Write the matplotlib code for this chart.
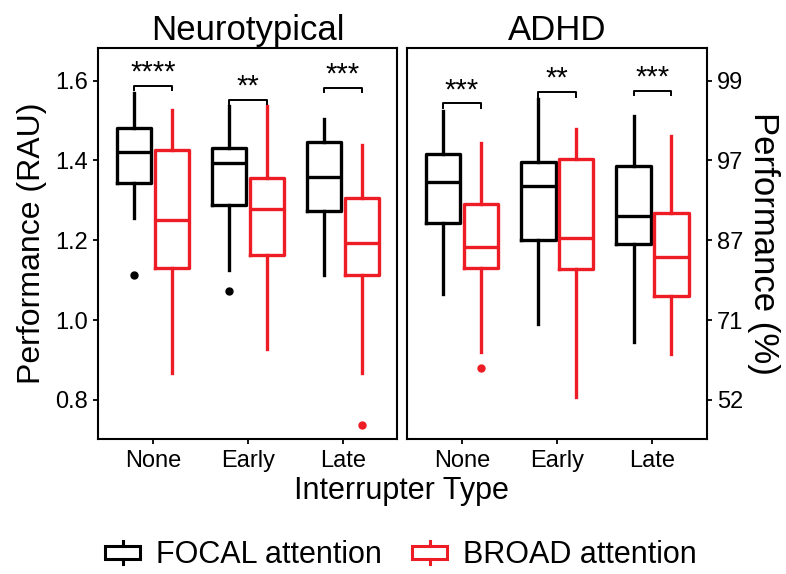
import matplotlib
matplotlib.use('Agg')
import matplotlib.pyplot as plt
from matplotlib.legend_handler import HandlerBase
from matplotlib.patches import Rectangle
from matplotlib.lines import Line2D

plt.rcParams['font.family'] = ['Liberation Sans', 'DejaVu Sans']

# ---- data (RAU scale) ----
interrupters = ['None', 'Early', 'Late']
groups = ['Neurotypical', 'ADHD']

# each row: whisker low, Q1, median, Q3, whisker high
focal_nt = [[1.256, 1.343, 1.421, 1.482, 1.570],
            [1.125, 1.288, 1.394, 1.430, 1.535],
            [1.112, 1.274, 1.359, 1.447, 1.504]]
broad_nt = [[0.866, 1.131, 1.250, 1.425, 1.526],
            [0.928, 1.164, 1.278, 1.355, 1.535],
            [0.867, 1.112, 1.194, 1.306, 1.439]]
focal_adhd = [[1.064, 1.242, 1.347, 1.416, 1.524],
              [0.989, 1.201, 1.337, 1.397, 1.553],
              [0.945, 1.190, 1.260, 1.386, 1.510]]
broad_adhd = [[0.920, 1.130, 1.182, 1.291, 1.444],
              [0.807, 1.128, 1.206, 1.403, 1.478],
              [0.916, 1.060, 1.158, 1.267, 1.461]]

outl_focal_nt = [[1.112], [1.073], []]
outl_broad_nt = [[], [], [0.738]]
outl_focal_adhd = [[], [], []]
outl_broad_adhd = [[0.880], [], []]

bracket_nt = [1.587, 1.551, 1.582]
bracket_adhd = [1.543, 1.571, 1.574]
stars_nt = ['****', '**', '***']
stars_adhd = ['***', '**', '***']

rau_ticks = [0.8, 1.0, 1.2, 1.4, 1.6]
pct_labels = ['52', '71', '87', '97', '99']

BLACK = 'black'
RED = '#ee1c24'


def make_stats(rows, outl):
    out = []
    for r, f in zip(rows, outl):
        out.append(dict(whislo=r[0], q1=r[1], med=r[2], q3=r[3], whishi=r[4], fliers=f))
    return out


def draw_boxes(ax, rows, outl, pos, color):
    lw = 2.4
    ax.bxp(make_stats(rows, outl), positions=pos, widths=0.36, showcaps=False,
           boxprops=dict(color=color, linewidth=lw),
           whiskerprops=dict(color=color, linewidth=lw),
           medianprops=dict(color=color, linewidth=lw),
           flierprops=dict(marker='o', markerfacecolor=color, markeredgecolor=color,
                           markersize=5),
           manage_ticks=False)


class BoxKey(HandlerBase):
    # ggplot-like boxplot key: box with short whisker stubs, no median
    def create_artists(self, legend, orig_handle, xdescent, ydescent, width, height,
                       fontsize, trans):
        c = orig_handle.get_edgecolor()
        x0, y0 = -xdescent, -ydescent
        lw = 2.2
        rect = Rectangle((x0, y0 + 0.2 * height), width, 0.6 * height, fill=False,
                         edgecolor=c, linewidth=lw, transform=trans)
        w1 = Line2D([x0 + width / 2] * 2, [y0, y0 + 0.2 * height], color=c, lw=lw, transform=trans)
        w2 = Line2D([x0 + width / 2] * 2, [y0 + 0.8 * height, y0 + height], color=c, lw=lw,
                    transform=trans)
        return [rect, w1, w2]


fig = plt.figure(figsize=(7.86, 5.74), dpi=100)
ax1 = fig.add_axes([0.125, 0.236, 0.380, 0.680])
ax2 = fig.add_axes([0.518, 0.236, 0.381, 0.680])

x = [1, 2, 3]
panels = [(ax1, focal_nt, broad_nt, outl_focal_nt, outl_broad_nt, bracket_nt, stars_nt),
          (ax2, focal_adhd, broad_adhd, outl_focal_adhd, outl_broad_adhd, bracket_adhd, stars_adhd)]

for i, (ax, fo, br, ofo, obr, brk, st) in enumerate(panels):
    draw_boxes(ax, fo, ofo, [v - 0.197 for v in x], BLACK)
    draw_boxes(ax, br, obr, [v + 0.2 for v in x], RED)
    for xi, yb, s in zip(x, brk, st):
        ax.plot([xi - 0.197, xi - 0.197, xi + 0.2, xi + 0.2],
                [yb - 0.011, yb, yb, yb - 0.011], color=BLACK, lw=1.4)
        ax.text(xi, yb + 0.013, s, ha='center', va='baseline', fontsize=21)
    ax.set_xlim(0.424, 3.57)
    ax.set_ylim(0.703, 1.681)
    ax.set_xticks(x)
    ax.set_xticklabels(interrupters)
    ax.set_title(groups[i], fontsize=25, pad=6)
    for sp in ax.spines.values():
        sp.set_linewidth(1.5)
    ax.tick_params(axis='both', labelsize=17, length=3.5, width=1.3, pad=4)
    ax.tick_params(axis='x', pad=5)

ax1.set_yticks(rau_ticks)
ax1.set_yticklabels(['%.1f' % t for t in rau_ticks])
ax1.set_ylabel('Performance (RAU)', fontsize=23, labelpad=6)

ax2.yaxis.tick_right()
ax2.yaxis.set_label_position('right')
ax2.set_yticks(rau_ticks)
ax2.set_yticklabels(pct_labels)
ax2.set_ylabel('Performance (%)', fontsize=25, rotation=-90, labelpad=26)

fig.text(0.511, 1 - 491 / 574, 'Interrupter Type', ha='center', va='center', fontsize=22)

h1 = Rectangle((0, 0), 1, 1, fill=False, edgecolor=BLACK)
h2 = Rectangle((0, 0), 1, 1, fill=False, edgecolor=RED)
fig.legend([h1, h2], ['FOCAL attention', 'BROAD attention'], ncol=2, frameon=False,
           loc='center', bbox_to_anchor=(0.51, 1 - 555 / 574), fontsize=22,
           handler_map={Rectangle: BoxKey()}, handlelength=1.15, handleheight=0.75,
           handletextpad=0.5, columnspacing=1.0)

fig.savefig('out.png', dpi=100)
